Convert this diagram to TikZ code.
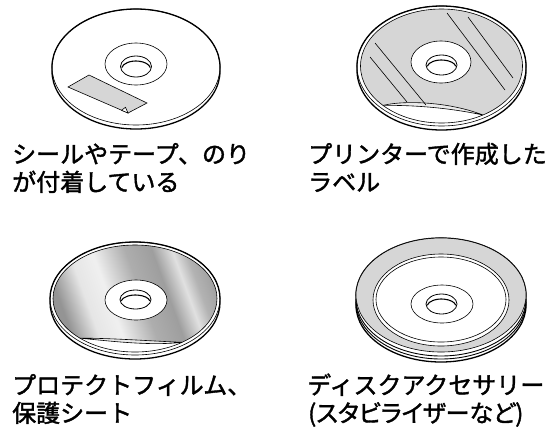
\documentclass[tikz,border=0pt]{standalone}
\usepackage{fontspec}
\newfontfamily\jpfont[FakeBold=1.6]{Noto Sans CJK JP}
\newfontfamily\jppropfont[FakeBold=1.6, RawFeature=+palt]{Noto Sans CJK JP}
% brushed-metal look for the protective film
\pgfdeclarehorizontalshading{metalfilm}{100bp}{%
  color(0bp)=(black!42); color(25bp)=(black!42); color(33bp)=(black!10);
  color(40bp)=(black!6); color(50bp)=(black!32); color(58bp)=(black!38);
  color(64bp)=(black!12); color(68bp)=(black!30); color(75bp)=(black!40);
  color(100bp)=(black!40)}
\begin{document}
\begin{tikzpicture}[x=1pt,y=-1pt,
  outline/.style={line width=1.3pt, line join=round},
  faceline/.style={line width=0.6pt},
  hubline/.style={line width=0.6pt},
  holeline/.style={line width=0.8pt},
  wallline/.style={line width=1.1pt},
  labelgray/.style={fill=black!16},
  caption/.style={font=\jpfont\fontsize{24}{28}\selectfont, inner sep=0pt, anchor=base west}]
\useasboundingbox (0,0) rectangle (551,440);

% ---------- disc with sticker / tape ----------
\draw[outline] (52,67) arc[start angle=180, end angle=360, x radius=84, y radius=58]
  -- ++(0,4) arc[start angle=0, end angle=180, x radius=84, y radius=58] -- cycle;
\draw[faceline] (136,67) ellipse[x radius=84, y radius=58];
\draw[hubline] (136,64) ellipse[x radius=31, y radius=21];
\draw[holeline] (136,66.5) ellipse[x radius=15.5, y radius=10.5];
\draw[wallline] (136,69) ++(190:14.5 and 8) arc[start angle=190, end angle=350, x radius=14.5, y radius=8];
\draw[faceline, labelgray] (68,87) -- (89,75) -- (147,103) -- (128,113) -- cycle;
\draw[faceline, fill=white] (121.5,110.3) -- (125.5,107.3) -- (128,113) -- cycle;

% ---------- disc with printed label ----------
\draw[outline] (357,66) arc[start angle=180, end angle=360, x radius=84.5, y radius=60]
  -- ++(0,4) arc[start angle=0, end angle=180, x radius=84.5, y radius=60] -- cycle;
\draw[faceline] (441.5,66) ellipse[x radius=84.5, y radius=60];
\fill[labelgray] (482.9,115) arc[start angle=59.2, end angle=-223.8, x radius=81, y radius=57]
  .. controls (405,100) and (450,102) .. cycle;
\draw[faceline, fill=black!8] (383,105.4) .. controls (405,100) and (450,102) .. (482.9,115)
  .. controls (450,108) and (415,105) .. cycle;
\draw[faceline] (441.5,66) ellipse[x radius=81, y radius=57];
\draw[faceline] (370,57) -- (407,102);
\draw[faceline] (375,43) -- (426,105);
\draw[faceline] (447,13) -- (505,90);
\draw[faceline] (468,17) -- (513,78);
\draw[hubline, fill=white] (441,62) ellipse[x radius=30, y radius=21];
\draw[holeline] (441.5,65) ellipse[x radius=15.5, y radius=10];
\draw[wallline] (441.5,67.5) ++(190:14.5 and 7.5) arc[start angle=190, end angle=350, x radius=14.5, y radius=7.5];

% ---------- disc with protective film ----------
\draw[outline] (50,298.5) arc[start angle=180, end angle=360, x radius=85, y radius=56.5]
  -- ++(0,4) arc[start angle=0, end angle=180, x radius=85, y radius=56.5] -- cycle;
\draw[faceline] (135,298.5) ellipse[x radius=85, y radius=56.5];
\shade[shading=metalfilm, shading angle=20] (182,342.3) arc[start angle=55, end angle=-227.9, x radius=82, y radius=53.5]
  .. controls (110,338) and (150,341) .. cycle;
\draw[faceline, fill=black!8] (80,338.2) .. controls (110,338) and (150,341) .. (182,342.3)
  .. controls (150,346) and (110,341) .. cycle;
\draw[faceline] (135,298.5) ellipse[x radius=82, y radius=53.5];
\draw[hubline, fill=white] (136,300) ellipse[x radius=31, y radius=20];
\draw[holeline] (135.5,299.5) ellipse[x radius=15.5, y radius=9.5];
\draw[wallline] (135.5,302) ++(190:14.5 and 7) arc[start angle=190, end angle=350, x radius=14.5, y radius=7];

% ---------- disc with stabilizer ring ----------
\draw[outline] (356,295) arc[start angle=180, end angle=360, x radius=85, y radius=57]
  -- ++(0,10) arc[start angle=0, end angle=180, x radius=85, y radius=57] -- cycle;
\draw[line width=0.9pt] (356,299) arc[start angle=180, end angle=0, x radius=85, y radius=57];
\draw[line width=0.9pt] (356,302) arc[start angle=180, end angle=0, x radius=85, y radius=57];
\draw[faceline, labelgray, even odd rule] (441,295) ellipse[x radius=85, y radius=57]
  (441,300) ellipse[x radius=68, y radius=46];
\draw[faceline] (441,299.5) ellipse[x radius=65, y radius=42.5];
\draw[hubline] (442,304) ellipse[x radius=31, y radius=19];
\draw[holeline] (441.5,304) ellipse[x radius=15.5, y radius=10];
\draw[wallline] (441.5,306.5) ++(190:14.5 and 7.5) arc[start angle=190, end angle=350, x radius=14.5, y radius=7.5];

% ---------- captions ----------
\node[caption] (c1a) at (12,163) {シールやテープ、のり};
\node[caption] (c1b) at (12,191) {が付着している};
\node[caption] (c2a) at (308,163) {プリンターで作成した};
\node[caption] (c2b) at (308,191) {ラベル};
\node[caption] (c3a) at (12,394) {プロテクトフィルム、};
\node[caption] (c3b) at (12,422) {保護シート};
\node[caption] (c4a) at (307,394) {ディスクアクセサリー};
\node[caption, font=\jppropfont\fontsize{24}{28}\selectfont] (c4b) at (308,422) {(スタビライザーなど)};
\end{tikzpicture}
\end{document}
